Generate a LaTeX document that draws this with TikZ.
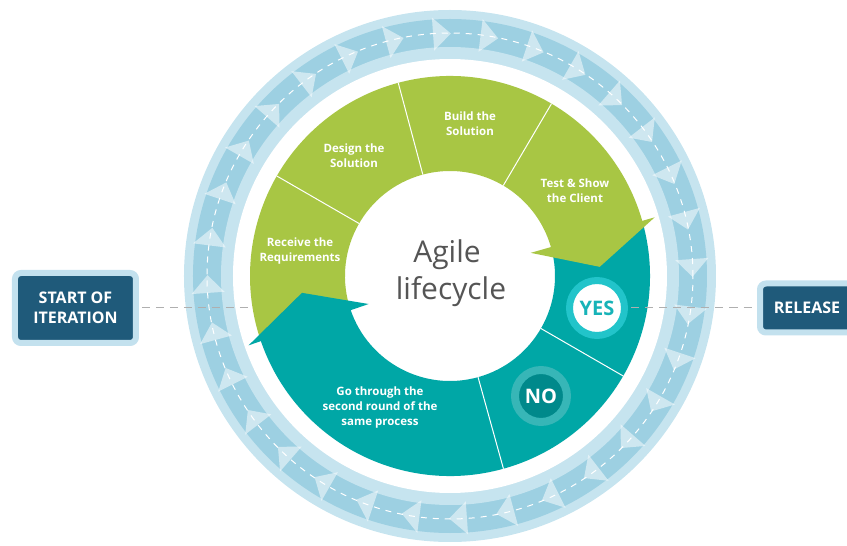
\documentclass[tikz,border=0pt]{standalone}
\usepackage{fontspec}
\setmainfont{Open Sans}
\definecolor{cgreen}{HTML}{A8C644}
\definecolor{cteal}{HTML}{00A7A6}
\definecolor{ringlight}{HTML}{C6E4EF}
\definecolor{road}{HTML}{9DD0E2}
\definecolor{boxdark}{HTML}{1F5A7A}
\definecolor{boxframe}{HTML}{C3E1EE}
\definecolor{yesring}{HTML}{22C4CA}
\definecolor{yestext}{HTML}{17B3B8}
\definecolor{noring}{HTML}{37B6B7}
\definecolor{nofill}{HTML}{00898B}
\definecolor{agiletext}{HTML}{555555}
\definecolor{dashgray}{HTML}{AFAFAF}
\begin{document}
\begin{tikzpicture}[x=1pt,y=1pt,
  seglabel/.style={text=white,font=\bfseries\fontsize{11.5}{15}\selectfont,align=center,inner sep=0pt},
  gatebox/.style={rectangle,rounded corners=6pt,fill=boxdark,draw=boxframe,line width=6pt,text=white,font=\bfseries\fontsize{16}{20}\selectfont,align=center,inner sep=0pt},
  dashline/.style={draw=dashgray,line width=1pt,dash pattern=on 8pt off 6pt},
  chev/.style={fill=white,fill opacity=0.5},
  divider/.style={draw=white,line width=1pt},
  agilefont/.style={text=agiletext,font=\fontsize{30}{30}\selectfont,inner sep=0pt,anchor=base}
]
\useasboundingbox (-450,-270) rectangle (397,276);
\clip (-450,-270) rectangle (397,276);
% outer road ring
\fill[ringlight] (0,0) circle (266);
\fill[road] (0,0) circle (257);
\fill[ringlight] (0,0) circle (229);
\fill[white] (0,0) circle (217);
\draw[white,line width=1pt,dash pattern=on 6pt off 6pt] (0,0) circle (243);
\foreach \i in {0,...,31}{
  \pgfmathsetmacro\a{\i*11.25+4}
  \pgfmathsetmacro\b{\a-4.2}
  \fill[chev] (\a:226) -- (\a:259) -- (\b:242.5) -- cycle;
}
% cycle sectors
\fill[cgreen] (15.5:200) arc[start angle=15.5,end angle=198.5,radius=200] -- (198.5:105) arc[start angle=198.5,end angle=15.5,radius=105] -- cycle;
\fill[cteal] (198.5:200) arc[start angle=198.5,end angle=375.5,radius=200] -- (375.5:105) arc[start angle=375.5,end angle=198.5,radius=105] -- cycle;
% arrow heads
\fill[cgreen] (16:84) -- (16:213) -- (3.5:150) -- cycle;
\fill[cteal] (199:86) -- (199:213) -- (186.5:149) -- cycle;
% dividers
\foreach \t in {59.5,105,150,-30,-74.5}{
  \draw[divider] (\t:105) -- (\t:200);
}
% labels
\node[seglabel] (test) at (125,85.5) {Test \& Show\\the Client};
\node[seglabel] (build) at (20,152) {Build the\\Solution};
\node[seglabel] (design) at (-96,120.5) {Design the\\Solution};
\node[seglabel] (receive) at (-150,24.5) {Receive the\\Requirements};
\node[seglabel] (go) at (-70,-132) {Go through the\\second round of the\\same process};
\node[agilefont] (agile) at (-3,13) {Agile};
\node[agilefont] (life) at (1,-24) {lifecycle};
% decision circles
\node[circle,fill=white,draw=yesring,line width=7pt,minimum size=55pt,inner sep=0pt,text=yestext,font=\bfseries\fontsize{20}{20}\selectfont] (yes) at (147,-32) {YES};
\node[circle,fill=nofill,draw=noring,line width=8pt,minimum size=52pt,inner sep=0pt,text=white,font=\bfseries\fontsize{20}{20}\selectfont] (no) at (91,-120) {NO};
% gate boxes
\node[gatebox,minimum width=121pt,minimum height=70pt] (start) at (-374.5,-32) {START OF\\ITERATION};
\node[gatebox,minimum width=94pt,minimum height=49pt] (release) at (357,-32) {RELEASE};
\coordinate (leftend) at (-198,-32);
\draw[dashline,shorten <=3pt] (start.east) -- (leftend);
\draw[dashline,shorten <=3.5pt,shorten >=3pt] (yes.east) -- (release.west);
\end{tikzpicture}
\end{document}
